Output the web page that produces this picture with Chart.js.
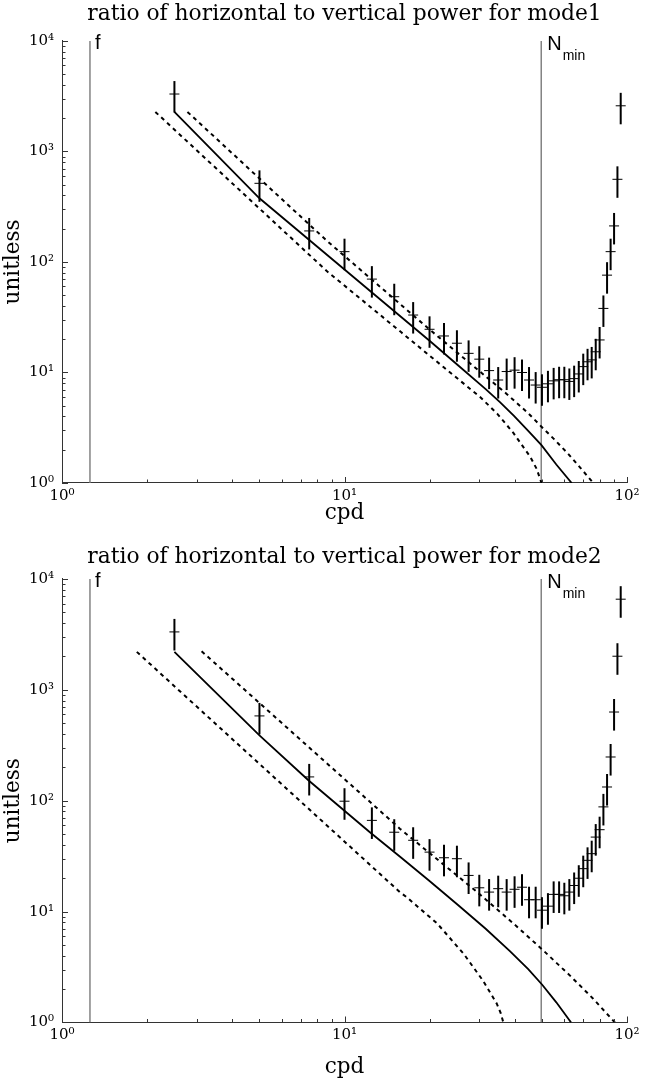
<!DOCTYPE html>
<html>
<head>
<meta charset="utf-8">
<script src="https://cdn.jsdelivr.net/npm/chart.js@4.4.1/dist/chart.umd.min.js"></script>
<style>
  html, body { margin:0; padding:0; background:#fff; }
  #wrap { position:relative; width:646px; height:1083px; }
  .box  { position:absolute; left:0; width:646px; }
</style>
</head>
<body>
<div id="wrap">
  <div class="box" style="top:0;height:541px"><canvas id="mode1"></canvas></div>
  <div class="box" style="top:541px;height:542px"><canvas id="mode2"></canvas></div>
</div>
<script>
// ── Data ───────────────────────────────────────────────────
const CPD = [2.5,5,7.5,10,12.5,15,17.5,20,22.5,25,27.5,30,32.5,35,37.5,40,42.5,45,47.5,50,
             52.5,55,57.5,60,62.5,65,67.5,70,72.5,75,77.5,80,82.5,85,87.5,90,92.5,95];

const MODE1 = [3310,515,191,124,70,48.5,33.1,24.6,21.4,18.4,14.9,13.2,10.4,8.55,10.2,10.5,10.0,8.55,7.7,7.35,
               7.9,8.4,8.6,8.6,8.3,8.8,9.7,11.3,12.5,13.0,15.4,19.7,38,76,124,212,560,2590];
const MODE2 = [3330,582,164,99,66.5,52,44,34.4,30.6,30,21.2,16.4,15,16.1,15,15.9,16.6,12.8,12.8,10.3,
               11.2,14.3,14.3,13.9,15,17.2,20,24.4,29,33.3,47,54.8,88,133,248,631,2010,6570];

// error bars span a fixed factor above / below each estimate
const ERR_UP = 1.31, ERR_DN = 0.68;

// model curves (solid) and their bounds (dashed)
const SOLID1_X = [2.5,5,10,20,25.1,31.6,35.5,39.8,44.7,49.8,56.2,63.7];
const SOLID1_Y = [2280,377,85.5,19.4,11.75,7.08,5.4,4.05,2.97,2.2,1.47,1];
const UPPER1_X = [2.78,8.65,20,37.5,44.7,49.8,55.3,61.5,68.4,76];
const UPPER1_Y = [2280,156,24.5,6.4,4.28,3.23,2.48,1.87,1.37,1];
const LOWER1_X = [2.14,8.69,15.85,22.4,30.2,34.7,39.6,45.4,47.9,49.8];
const LOWER1_Y = [2280,82,23.2,11.2,6.0,4.25,2.84,1.73,1.34,1];

const SOLID2_X = [2.5,5,7.45,12.3,15.85,19.95,25.1,31.6,38.5,44.7,50.1,56.2,63.4];
const SOLID2_Y = [2200,389,153,52,30.8,19.0,11.6,7.01,4.41,3.03,2.19,1.52,1];
const UPPER2_X = [3.12,15.7,29.3,39.8,50.1,63.1,75.9,90.6];
const UPPER2_Y = [2230,56,15.2,7.74,4.56,2.62,1.64,1];
const LOWER2_X = [1.84,15.7,16.6,21.3,26.4,30.9,34.6,35.7,36.5];
const LOWER2_Y = [2200,15,13.5,7.8,4.17,2.39,1.48,1.22,1];

const F_CPD = 1.256, NMIN_CPD = 49.7;

// ── Axis ticks ─────────────────────────────────────────────
const X_TICKS  = [1,2,3,4,5,6,7,8,9,10,20,30,40,50,60,70,80,90,100];
const Y_TICKS  = [1,2,3,4,5,6,7,8,9,10,20,30,40,50,60,70,80,90,100,200,300,400,500,600,700,800,900,
                  1000,2000,3000,4000,5000,6000,7000,8000,9000,10000];
const X_MAJOR  = [1,10,100];
const X_LABELS = ['10⁰','10¹','10²'];
const Y_MAJOR  = [1,10,100,1000,10000];
const Y_LABELS = ['10⁰','10¹','10²','10³','10⁴'];

const SERIF = "'DejaVu Serif', serif";
const SANS  = "'Liberation Sans', Arial, sans-serif";

// ── Plugins ────────────────────────────────────────────────
const errorBars = {
  id: 'errorBars',
  afterDatasetsDraw(chart) {
    const {ctx, scales:{x, y}} = chart;
    chart.data.datasets.forEach(d => {
      if (!d.errBars) return;
      ctx.save();
      ctx.strokeStyle = '#000';
      ctx.lineWidth = 2;
      d.data.forEach(p => {
        const px = x.getPixelForValue(p.x);
        ctx.beginPath();
        ctx.moveTo(px, y.getPixelForValue(p.y * ERR_UP));
        ctx.lineTo(px, y.getPixelForValue(p.y * ERR_DN));
        ctx.stroke();
      });
      ctx.restore();
    });
  }
};

const inwardTicks = {
  id: 'inwardTicks',
  afterDraw(chart) {
    const {ctx, chartArea:a, scales:{x, y}} = chart;
    ctx.save();
    ctx.strokeStyle = '#333';
    ctx.lineWidth = 1;
    x.ticks.forEach(t => {
      const px = Math.round(x.getPixelForValue(t.value)) + 0.5;
      const len = t.major ? 6 : 3.5;
      ctx.beginPath(); ctx.moveTo(px, a.bottom); ctx.lineTo(px, a.bottom - len); ctx.stroke();
    });
    y.ticks.forEach(t => {
      const py = Math.round(y.getPixelForValue(t.value)) + 0.5;
      const len = t.major ? 6 : 3.5;
      ctx.beginPath(); ctx.moveTo(a.left, py); ctx.lineTo(a.left + len, py); ctx.stroke();
    });
    ctx.restore();
  }
};

const lineLabels = {
  id: 'lineLabels',
  afterDraw(chart) {
    const {ctx, chartArea:a, scales:{x}} = chart;
    ctx.save();
    ctx.fillStyle = '#000';
    ctx.textBaseline = 'alphabetic';
    ctx.font = '20px ' + SANS;
    ctx.fillText('f', x.getPixelForValue(F_CPD) + 5, a.top + 8);
    const nx = x.getPixelForValue(NMIN_CPD) + 6;
    ctx.fillText('N', nx, a.top + 9);
    const w = ctx.measureText('N').width;
    ctx.font = '14px ' + SANS;
    ctx.fillText('min', nx + w + 1, a.top + 19);
    ctx.restore();
  }
};

// ── Chart helpers ──────────────────────────────────────────
function pts(xs, ys) { return xs.map((v, i) => ({ x: v, y: ys[i] })); }

function curve(label, xs, ys, dashed) {
  return { label, data: pts(xs, ys), showLine: true, borderColor: '#000', borderWidth: dashed ? 2 : 1.8,
           borderDash: dashed ? [4, 4] : [], pointRadius: 0, tension: 0, order: 2 };
}

function vline(label, v) {
  return { label, data: pts([v, v], [1, 10000]), showLine: true, borderColor: '#7a7a7a',
           borderWidth: 1.4, pointRadius: 0, order: 3 };
}

function makeChart(id, title, vals, solid, upper, lower, box) {
  const datasets = [
    vline('f', F_CPD),
    vline('Nmin', NMIN_CPD),
    curve('upper', upper[0], upper[1], true),
    curve('lower', lower[0], lower[1], true),
    curve('model', solid[0], solid[1], false),
    { label: title, data: pts(CPD, vals), showLine: false, pointStyle: 'line', pointRadius: 5,
      pointBorderWidth: 1, borderColor: '#000', errBars: true, order: 1 }
  ];
  return new Chart(document.getElementById(id), {
    type: 'scatter',
    data: { datasets },
    plugins: [errorBars, inwardTicks, lineLabels],
    options: {
      responsive: true,
      maintainAspectRatio: false,
      animation: false,
      layout: { padding: { left: 0, right: 19, top: 0, bottom: 0 } },
      plugins: {
        legend: { display: false },
        tooltip: { enabled: false },
        title: { display: true, fullSize: false, text: title, color: '#000',
                 font: { family: SERIF, size: 21.8, weight: 'normal' },
                 padding: { top: box.tTop, bottom: box.tBottom } }
      },
      scales: {
        x: {
          type: 'logarithmic', min: 1, max: 100, position: 'bottom',
          afterBuildTicks: s => { s.ticks = X_TICKS.map(v => ({ value: v, major: X_MAJOR.includes(v) })); },
          afterFit: s => { s.height = box.xh; },
          grid: { display: false, drawTicks: false },
          border: { display: true, color: '#333', width: 1 },
          ticks: { autoSkip: false, maxRotation: 0, minRotation: 0, padding: 4, color: '#000',
                   font: { family: SERIF, size: 15 },
                   callback: v => { const k = X_MAJOR.indexOf(v); return k < 0 ? '' : X_LABELS[k]; } },
          title: { display: true, text: 'cpd', color: '#000', font: { family: SERIF, size: 21.5 },
                   padding: { top: 0, bottom: box.xt } }
        },
        y: {
          type: 'logarithmic', min: 1, max: 10000, position: 'left',
          afterBuildTicks: s => { s.ticks = Y_TICKS.map(v => ({ value: v, major: Y_MAJOR.includes(v) })); },
          afterFit: s => { s.width = 62; },
          grid: { display: false, drawTicks: false },
          border: { display: true, color: '#333', width: 1 },
          ticks: { autoSkip: false, padding: 8, color: '#000', font: { family: SERIF, size: 15 },
                   callback: v => { const k = Y_MAJOR.indexOf(v); return k < 0 ? '' : Y_LABELS[k]; } },
          title: { display: true, text: 'unitless', color: '#000', font: { family: SERIF, size: 21.5 },
                   padding: { top: 1, bottom: 0 } }
        }
      }
    }
  });
}

makeChart('mode1', 'ratio of horizontal to vertical power for mode1', MODE1,
          [SOLID1_X, SOLID1_Y], [UPPER1_X, UPPER1_Y], [LOWER1_X, LOWER1_Y],
          { tTop: 1, tBottom: 13.8, xh: 58, xt: 15 });
makeChart('mode2', 'ratio of horizontal to vertical power for mode2', MODE2,
          [SOLID2_X, SOLID2_Y], [UPPER2_X, UPPER2_Y], [LOWER2_X, LOWER2_Y],
          { tTop: 3, tBottom: 8.8, xh: 60.5, xt: 3 });
</script>
</body>
</html>
